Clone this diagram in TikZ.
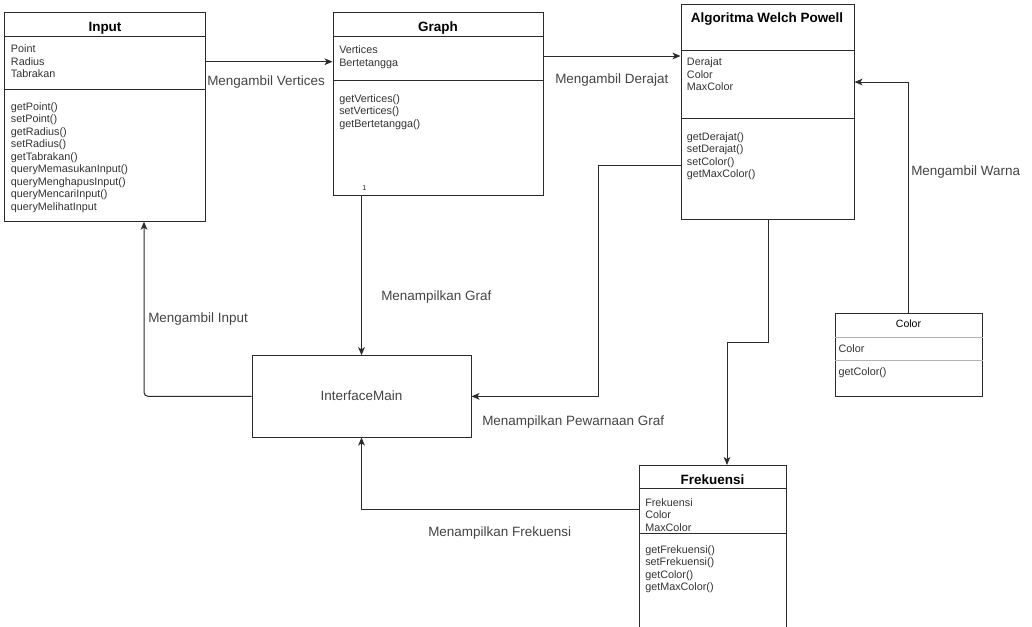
\documentclass[tikz,border=0pt]{standalone}
\usepackage{fontspec}
\setmainfont{Liberation Sans}
\usetikzlibrary{fit,arrows.meta}

\definecolor{linec}{HTML}{2B2B2B}
\definecolor{membertxt}{HTML}{333333}
\definecolor{labeltxt}{HTML}{444444}
\definecolor{sepgray}{HTML}{B3B3B3}

\newcommand\umlMemberFont{\fontsize{8.1}{9.4}\selectfont}
\newcommand\umlTitleFont{\fontsize{10.1}{12}\selectfont\bfseries}
\newcommand\umlLabelFont{\fontsize{10.1}{12}\selectfont}
\newcommand\umlSmallTitleFont{\fontsize{7.9}{9.4}\selectfont}

% member lists are placed by the baseline of their last line
\tikzset{
  box/.style={draw=linec, line width=0.75pt, inner sep=0pt, fill=white},
  sep/.style={draw=linec, line width=0.75pt},
  lightsep/.style={draw=sepgray, line width=0.75pt},
  umltitle/.style={font=\umlTitleFont, text=black, inner sep=0pt, anchor=base},
  members/.style={font=\umlMemberFont, text=membertxt, inner sep=0pt, align=left, anchor=base west},
  elabel/.style={font=\umlLabelFont, text=labeltxt, inner sep=0pt, anchor=base west},
  conn/.style={draw=linec, line width=0.75pt, -{Stealth[length=6pt,width=5pt,inset=1.6pt]}},
}

\begin{document}
\begin{tikzpicture}[x=0.75pt,y=-0.75pt]
\useasboundingbox (0,0) rectangle (1032,626);
\clip (0,0) rectangle (1032,626);

% ---------- class Input ----------
\node[box, fit={(4.7,12.3)(205,221.7)}] (input) {};
\draw[sep] (input.west |- 0,36) -- (input.east |- 0,36);
\draw[sep] (input.west |- 0,89) -- (input.east |- 0,89);
\node[umltitle] (inputT) at (105,31) {Input};
\node[members] (inputA) at (10.7,77.6) {Point\\Radius\\Tabrakan};
\node[members] (inputM) at (10.7,210.5) {getPoint()\\setPoint()\\getRadius()\\setRadius()\\getTabrakan()\\queryMemasukanInput()\\queryMenghapusInput()\\queryMencariInput()\\queryMelihatInput};

% ---------- class Graph ----------
\node[box, fit={(333,12.3)(543,195)}] (graph) {};
\draw[sep] (graph.west |- 0,36) -- (graph.east |- 0,36);
\draw[sep] (graph.west |- 0,80) -- (graph.east |- 0,80);
\node[umltitle] (graphT) at (438,31) {Graph};
\node[members] (graphA) at (339,66) {Vertices\\Bertetangga};
\node[members] (graphM) at (339,127.1) {getVertices()\\setVertices()\\getBertetangga()};
\node[font=\fontsize{5.5}{6}\selectfont, text=membertxt, inner sep=0pt, anchor=base west] (graphMult) at (362,190.5) {1};

% ---------- class Algoritma Welch Powell ----------
\node[box, fit={(681,4.3)(854,219)}] (algo) {};
\draw[sep] (algo.west |- 0,50) -- (algo.east |- 0,50);
\draw[sep] (algo.west |- 0,118) -- (algo.east |- 0,118);
\node[umltitle] (algoT) at (767,22.7) {Algoritma Welch Powell};
\node[members] (algoA) at (686.7,90.8) {Derajat\\Color\\MaxColor};
\node[members] (algoM) at (686.7,177.6) {getDerajat()\\setDerajat()\\setColor()\\getMaxColor()};

% ---------- class Color ----------
\node[box, fit={(835,313)(982,396)}] (color) {};
\draw[lightsep] (color.west |- 0,337) -- (color.east |- 0,337);
\draw[lightsep] (color.west |- 0,360) -- (color.east |- 0,360);
\node[font=\umlSmallTitleFont, text=black, inner sep=0pt, anchor=base] (colorT) at (908.5,327.7) {Color};
\node[members] (colorA) at (838.3,352.5) {Color};
\node[members] (colorM) at (838.3,375) {getColor()};

% ---------- class Frekuensi ----------
\node[box, fit={(639,465)(786,640)}] (frek) {};
\draw[sep] (frek.west |- 0,488) -- (frek.east |- 0,488);
\draw[sep] (frek.west |- 0,533) -- (frek.east |- 0,533);
\node[umltitle] (frekT) at (712.5,484.3) {Frekuensi};
\node[members] (frekA) at (645,531.1) {Frekuensi\\Color\\MaxColor};
\node[members] (frekM) at (645,590.6) {getFrekuensi()\\setFrekuensi()\\getColor()\\getMaxColor()};

% ---------- InterfaceMain ----------
\node[box, fit={(252,355.7)(471,437)}] (iface) {};
\node[font=\umlLabelFont, text=labeltxt, inner sep=0pt, anchor=base] (ifaceT) at (361.5,400.7) {InterfaceMain};

% ---------- bend points of the connectors ----------
\coordinate (yVert) at (0,61.7);
\coordinate (yDer) at (0,56);
\coordinate (yWarna) at (0,82);
\coordinate (pewBend) at (598,165);
\coordinate (inBend) at (144,221.7);
\coordinate (frBend) at (768,342);
\coordinate (frTop) at (727,465);
\coordinate (yFrek) at (0,509);

% ---------- connectors ----------
\draw[conn] (input.east |- yVert) -- (graph.west |- yVert);
\draw[conn] (graph.east |- yDer) -- (algo.west |- yDer);
\draw[conn] (color.north) |- (algo.east |- yWarna);
\draw[conn] (graph.south -| iface.north) -- (iface.north);
\draw[conn] (algo.west |- pewBend) -- (pewBend) |- (iface.east);
\draw[conn, rounded corners=3pt] (iface.west) -| (inBend);
\draw[conn] (algo.south -| frBend) -- (frBend) -| (frTop);
\draw[conn] (frek.west |- yFrek) -| (iface.south);

% ---------- connector labels ----------
\node[elabel] (lVert) at (207,85.7) {Mengambil Vertices};
\node[elabel] (lDer) at (555,83.7) {Mengambil Derajat};
\node[elabel] (lWarna) at (911,175) {Mengambil Warna};
\node[elabel] (lGraf) at (381,300.7) {Menampilkan Graf};
\node[elabel] (lInput) at (148,322.7) {Mengambil Input};
\node[elabel] (lPew) at (482,425.7) {Menampilkan Pewarnaan Graf};
\node[elabel] (lFrek) at (428,536.5) {Menampilkan Frekuensi};
\end{tikzpicture}
\end{document}
